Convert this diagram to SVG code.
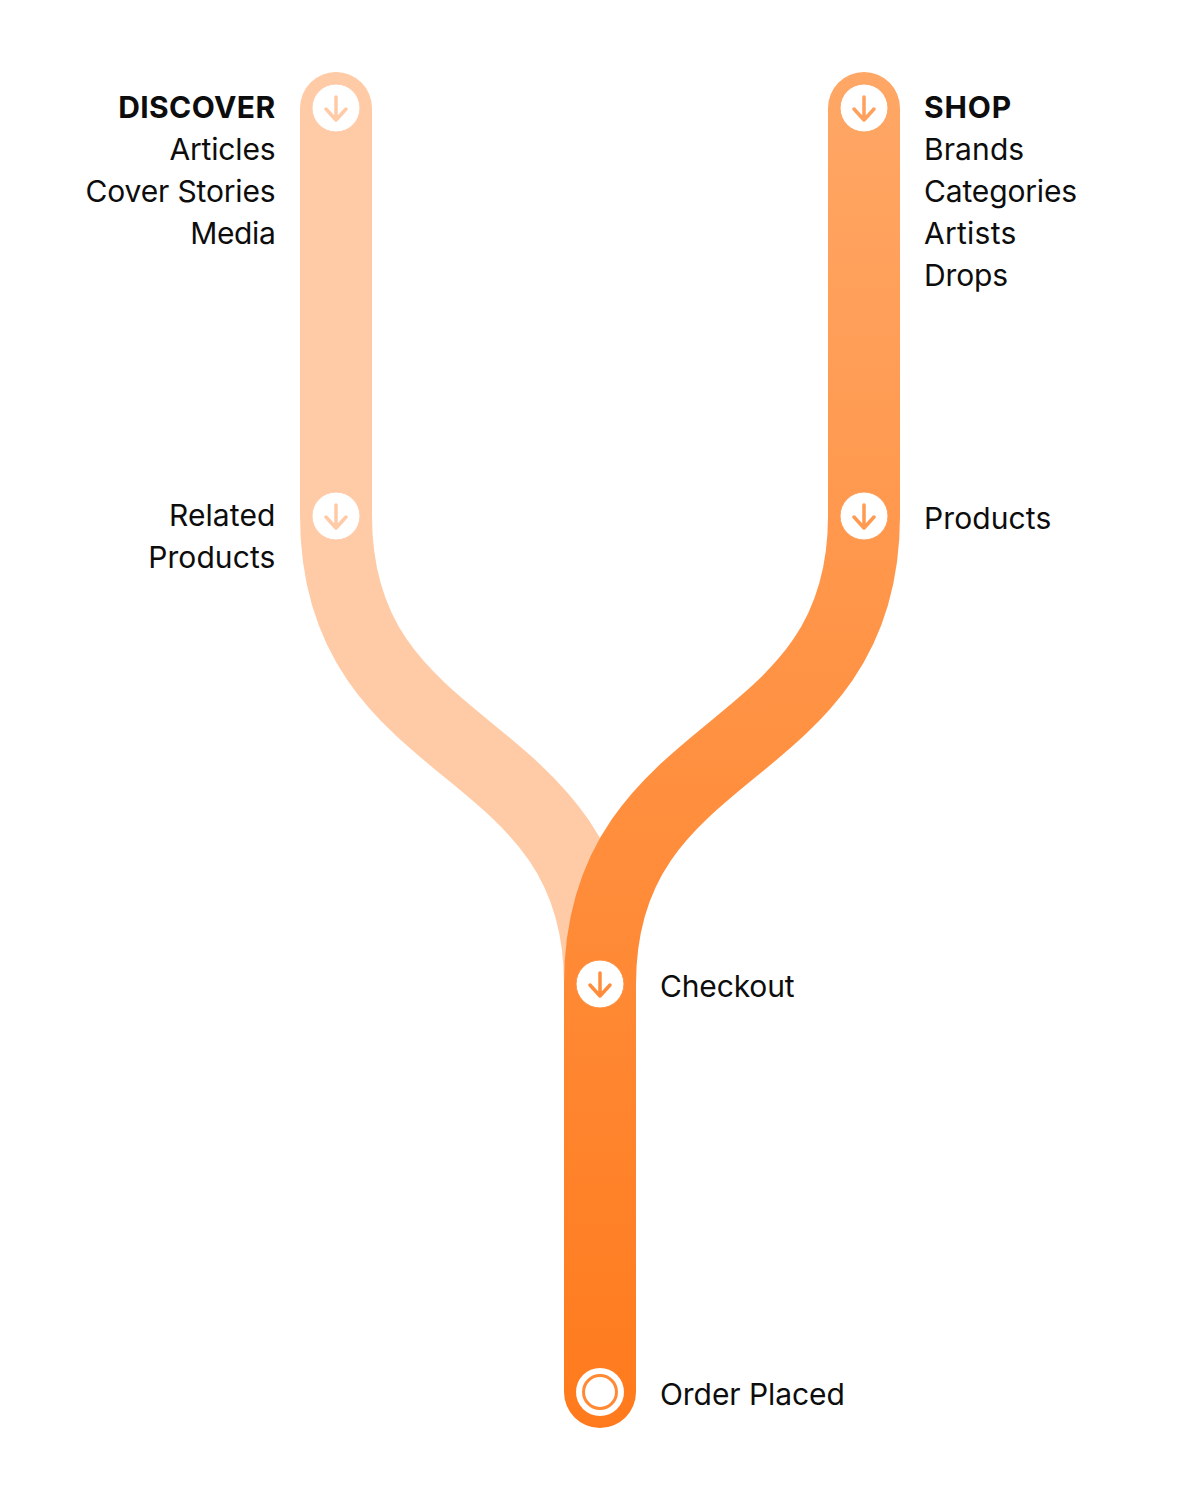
<svg xmlns="http://www.w3.org/2000/svg" width="1200" height="1500" viewBox="0 0 1200 1500">
<style>
.l{font-family:Inter,"Liberation Sans",sans-serif;font-size:30px;fill:#0d0d0d;letter-spacing:-.15px}
.b{font-weight:700;letter-spacing:.4px}
.w{letter-spacing:.1px}
.e{text-anchor:end}
.t{fill:none;stroke-width:72;stroke-linecap:round}
.c{fill:#fff}
.a{fill:none;stroke-width:3.500;stroke-linecap:round;stroke-linejoin:round}
</style>
<defs>
<linearGradient id="g" gradientUnits="userSpaceOnUse" x1="0" y1="72" x2="0" y2="1428">
<stop offset="0" stop-color="#ffa766"/><stop offset="1" stop-color="#ff7a1c"/>
</linearGradient>
<g id="ar"><circle class="c" r="24"/><path class="a" d="M0-11V12M-10 1L0 12L10 1"/></g>
</defs>
<rect width="1200" height="1500" fill="#fff"/>
<g id="connectors">
<path class="t" stroke="#ffcba6" d="M336 108V516C336 768 600 732 600 984"/>
<path class="t" stroke="url(#g)" d="M864 108V516C864 768 600 732 600 984V1392"/>
</g>
<g id="discover" stroke="#ffcba6"><use href="#ar" x="336" y="108"/></g>
<g id="shop" stroke="#ffa05c"><use href="#ar" x="864" y="108"/></g>
<g id="related" stroke="#ffcba6"><use href="#ar" x="336" y="516"/></g>
<g id="products" stroke="#ff9a50"><use href="#ar" x="864" y="516"/></g>
<g id="checkout" stroke="#ff8d3b"><use href="#ar" x="600" y="984"/></g>
<g id="order"><circle class="c" cx="600" cy="1392" r="24"/><circle cx="600" cy="1392" r="16.500" fill="none" stroke="#ff8a33" stroke-width="3"/></g>
<g id="labels">
<text class="l b e" x="275.500" y="117.500">DISCOVER</text>
<text class="l e" x="275.500" y="159.500">Articles</text>
<text class="l e" x="275.500" y="201.500">Cover Stories</text>
<text class="l e" x="275.500" y="243.500" style="letter-spacing:-.35px">Media</text>
<text class="l b" x="924" y="117.500" style="letter-spacing:.9px">SHOP</text>
<text class="l w" x="924" y="159.500">Brands</text>
<text class="l" x="924" y="201.500">Categories</text>
<text class="l" x="924" y="243.500" style="letter-spacing:.25px">Artists</text>
<text class="l" x="924" y="285.500">Drops</text>
<text class="l e w" x="275.500" y="525.500">Related</text>
<text class="l e w" x="275.500" y="567.500">Products</text>
<text class="l w" x="924" y="528.500">Products</text>
<text class="l" x="660" y="996.500">Checkout</text>
<text class="l" x="660" y="1404.500" style="letter-spacing:-.07px">Order Placed</text>
</g>
</svg>
